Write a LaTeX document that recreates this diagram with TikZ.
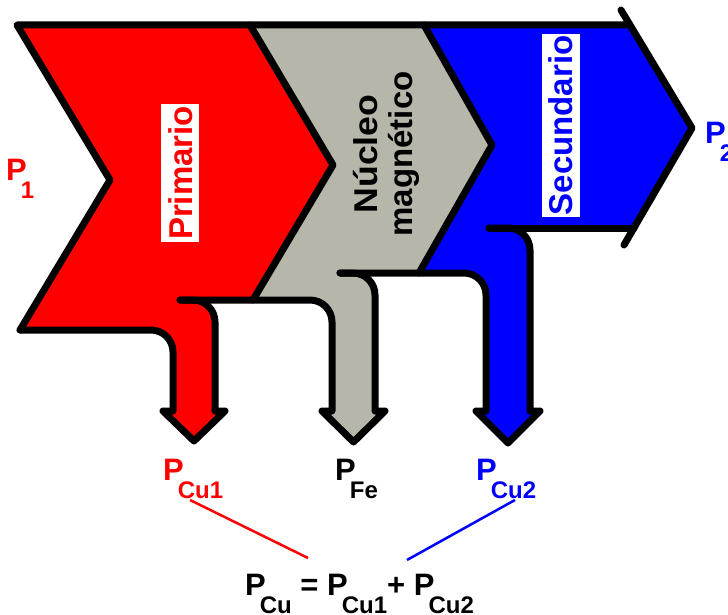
\documentclass[tikz,border=0pt]{standalone}
\usepackage{fontspec}
\setmainfont{Liberation Sans}
\definecolor{coregray}{RGB}{182,182,170}
\newcommand\bigf{\fontsize{33}{35}\selectfont\bfseries}
\newcommand\sbx[1]{\hspace{-6pt}\raisebox{-18pt}{\fontsize{24}{24}\selectfont #1}}
\begin{document}
\begin{tikzpicture}[x=1pt,y=-1pt,
  outl/.style={line width=7pt, line cap=round, line join=round},
  lbl/.style={anchor=base west, inner sep=0pt, font=\fontsize{31}{31}\selectfont\bfseries},
  tag/.style={rotate=90, fill=white, font=\bigf, inner xsep=2pt, inner ysep=7pt, text height=24pt, text depth=0pt},
  conn/.style={line width=2.5pt}]
\useasboundingbox (0,0) rectangle (728,615);
% fills
\fill[red] (17,25) -- (250,25) -- (333,165) -- (253,300) -- (193,300)
  arc[start angle=-90,end angle=0,radius=22] -- (215,411) -- (225,411) -- (194,441)
  -- (163,411) -- (173,411) -- (173,352) arc[start angle=0,end angle=-90,radius=22]
  -- (20,330) -- (110,180) -- cycle;
\fill[coregray] (250,25) -- (424,25) -- (492,145) -- (419,273) -- (353,273)
  arc[start angle=-90,end angle=0,radius=22] -- (375,411) -- (385,411) -- (353.5,442)
  -- (322,411) -- (332,411) -- (332,322) arc[start angle=0,end angle=-90,radius=22]
  -- (253,300) -- (333,165) -- cycle;
\fill[blue] (424,25) -- (630,25) -- (692,128) -- (634,228) -- (508,228)
  arc[start angle=-90,end angle=0,radius=22] -- (530,411) -- (540,411) -- (508,443)
  -- (476,411) -- (486,411) -- (486,295) arc[start angle=0,end angle=-90,radius=22]
  -- (419,273) -- (492,145) -- cycle;
% outlines
\draw[outl] (20,330) -- (110,180) -- (17,25) -- (630,25);
\draw[outl] (621,10) -- (692,128) -- (624,245);
\draw[outl] (20,330) -- (151,330) arc[start angle=-90,end angle=0,radius=22]
  -- (173,411) -- (163,411) -- (194,441) -- (225,411) -- (215,411) -- (215,322)
  arc[start angle=0,end angle=-90,radius=22] -- (180,300);
\draw[outl] (180,300) -- (310,300) arc[start angle=-90,end angle=0,radius=22]
  -- (332,411) -- (322,411) -- (353.5,442) -- (385,411) -- (375,411) -- (375,295)
  arc[start angle=0,end angle=-90,radius=22] -- (340,273);
\draw[outl] (340,273) -- (464,273) arc[start angle=-90,end angle=0,radius=22]
  -- (486,411) -- (476,411) -- (508,443) -- (540,411) -- (530,411) -- (530,250)
  arc[start angle=0,end angle=-90,radius=22] -- (489,228);
\draw[outl] (489,228) -- (634,228);
\draw[outl] (250,25) -- (333,165) -- (253,300);
\draw[outl] (424,25) -- (492,145) -- (419,273);
% texts
\node[tag, text=red] (prim) at (180,173) {Primario};
\node[rotate=90, align=center, font=\bigf] (nucleo) at (386,154) {\scalebox{1.08}[1]{Núcleo}\\magnético};
\node[tag, text=blue] (sec) at (560.5,125.5) {Secundario};
\node[lbl, text=red] (p1) at (6,180) {P\sbx{1}};
\node[lbl, text=blue] (p2) at (705,143) {P\sbx{2}};
\node[lbl, text=red] (pcu1) at (163,480) {P\sbx{Cu1}};
\node[lbl] (pfe) at (335,480) {P\sbx{Fe}};
\node[lbl, text=blue] (pcu2) at (476,480) {P\sbx{Cu2}};
\node[lbl] (pcu) at (245,595) {P\sbx{Cu} = P\sbx{Cu1}+ P\sbx{Cu2}};
% connectors
\coordinate (r1) at (190,500); \coordinate (r2) at (308,558);
\coordinate (b1) at (515,500); \coordinate (b2) at (407,560);
\draw[conn, red] (r1) -- (r2);
\draw[conn, blue] (b1) -- (b2);
\end{tikzpicture}
\end{document}
